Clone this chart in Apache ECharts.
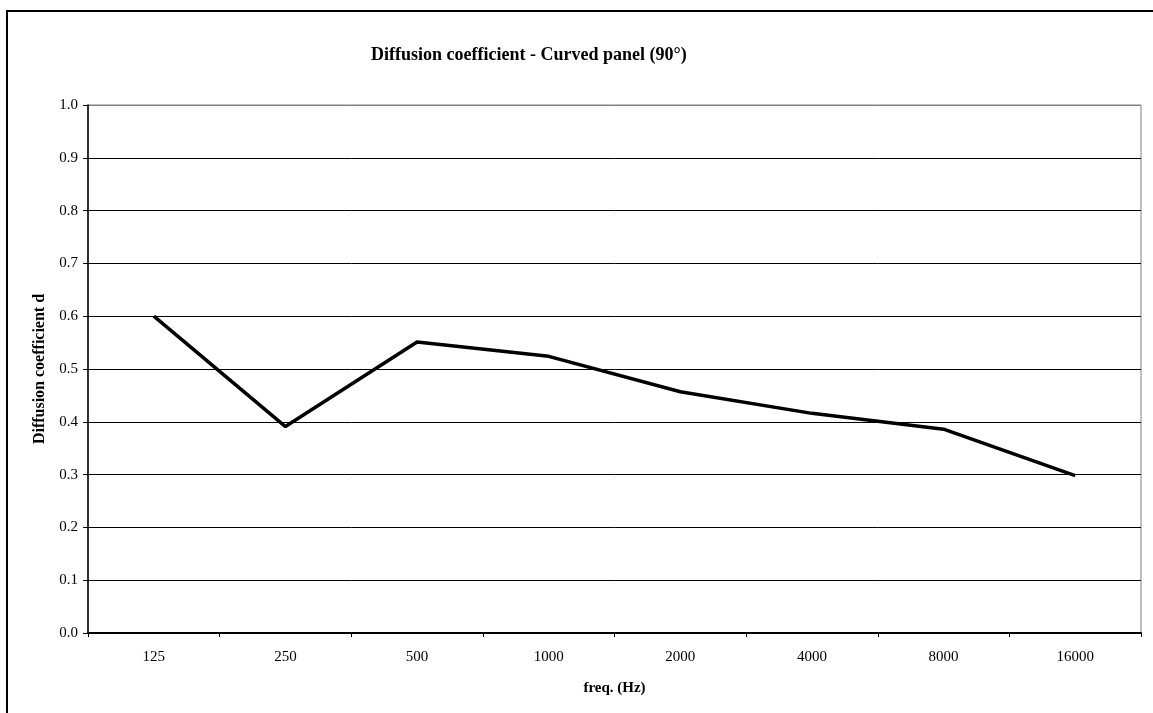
<!DOCTYPE html>
<html>
<head>
<meta charset="utf-8">
<script src="https://cdn.jsdelivr.net/npm/echarts@6/dist/echarts.min.js"></script>
<style>html,body{margin:0;padding:0;background:#fff;}#chart{width:1153px;height:713px;}</style>
</head>
<body>
<div id="chart"></div>
<script>
const categories = ['125', '250', '500', '1000', '2000', '4000', '8000', '16000'];
const diffusion = [0.600, 0.391, 0.551, 0.524, 0.457, 0.416, 0.386, 0.298];
const yTicks = [0, 0.1, 0.2, 0.3, 0.4, 0.5, 0.6, 0.7, 0.8, 0.9, 1.0];

const serif = '"Liberation Serif", "Times New Roman", serif';
const gridColors = yTicks.map((v, i) => i === yTicks.length - 1 ? '#808080' : '#000');
const chart = echarts.init(document.getElementById('chart'), null, {renderer: 'canvas'});
chart.setOption({
  animation: false,
  backgroundColor: '#fff',
  title: {
    text: 'Diffusion coefficient - Curved panel (90°)',
    left: 366, top: 41,
    textStyle: {fontFamily: serif, fontSize: 18, fontWeight: 'bold', color: '#000'}
  },
  graphic: [
    {type: 'rect', shape: {x: 7, y: 11, width: 1200, height: 800},
     style: {fill: 'none', stroke: '#000', lineWidth: 2}, z: 100}
  ],
  grid: {left: 88, right: 12, top: 105, bottom: 80, containLabel: false,
         show: true, borderColor: '#808080', borderWidth: 1, backgroundColor: 'transparent'},
  xAxis: {
    type: 'category',
    data: categories,
    boundaryGap: true,
    name: 'freq. (Hz)',
    nameLocation: 'middle',
    nameGap: 48,
    nameTextStyle: {fontFamily: serif, fontSize: 15, fontWeight: 'bold', color: '#000'},
    axisLine: {lineStyle: {color: '#000', width: 2}},
    axisTick: {show: true, inside: false, length: 4, lineStyle: {color: '#000', width: 1}},
    axisLabel: {fontFamily: serif, fontSize: 15, color: '#000', margin: 17},
    splitLine: {show: false}
  },
  yAxis: {
    type: 'value',
    min: 0, max: 1, interval: 0.1,
    name: 'Diffusion coefficient d',
    nameLocation: 'middle',
    nameGap: 38,
    nameRotate: 90,
    nameTextStyle: {fontFamily: serif, fontSize: 16, fontWeight: 'bold', color: '#000'},
    axisLine: {show: true, lineStyle: {color: '#000', width: 1.5}},
    axisTick: {show: true, length: 5, lineStyle: {color: '#000'}},
    axisLabel: {fontFamily: serif, fontSize: 15, color: '#000', margin: 10,
      formatter: v => yTicks.includes(Math.round(v * 10) / 10) ? v.toFixed(1) : ''},
    splitLine: {show: true, lineStyle: {color: gridColors, width: 1}}
  },
  series: [{
    type: 'line',
    data: diffusion,
    symbol: 'none',
    lineStyle: {color: '#000', width: 3.5},
    z: 10
  }]
});
</script>
</body>
</html>
